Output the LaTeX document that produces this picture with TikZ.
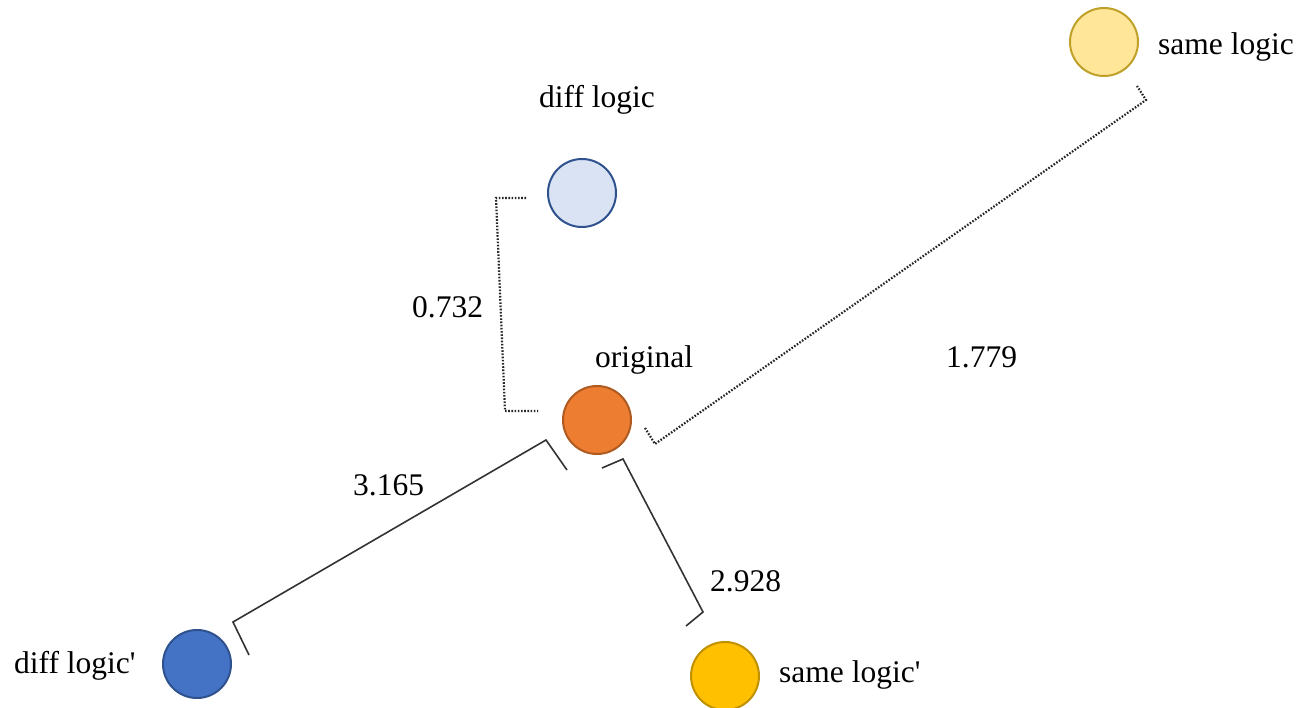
\documentclass[tikz,border=0pt]{standalone}
\usepackage{fontspec}
\setmainfont{Liberation Serif}
\begin{document}
\begin{tikzpicture}[x=1pt,y=-1pt,
  dot/.style={circle,minimum size=68pt,inner sep=0pt,line width=2pt},
  lbl/.style={anchor=base west,inner sep=0pt,font=\fontsize{31.5}{36}\selectfont},
  solidbr/.style={draw=black!80,line width=1.6pt},
  dotbr/.style={draw=black!85,line width=2.2pt,dash pattern=on 1.6pt off 1.6pt}]
\useasboundingbox[fill=white] (0,0) rectangle (1304,708);
% circles
\node[dot,fill={rgb,255:red,218;green,227;blue,243},draw={rgb,255:red,47;green,82;blue,143}] (dl) at (582,193) {};
\node[dot,fill={rgb,255:red,237;green,125;blue,49},draw={rgb,255:red,174;green,90;blue,33}] (or) at (597,420) {};
\node[dot,fill={rgb,255:red,255;green,230;blue,153},draw={rgb,255:red,191;green,160;blue,40}] (sl) at (1104,42) {};
\node[dot,fill={rgb,255:red,255;green,192;blue,0},draw={rgb,255:red,191;green,144;blue,0}] (slp) at (725,676) {};
\node[dot,fill={rgb,255:red,68;green,114;blue,196},draw={rgb,255:red,47;green,82;blue,143}] (dlp) at (197,664) {};
% labels
\node[lbl] (tdl) at (539,108) {diff logic};
\node[lbl] (tsl) at (1158,55) {same logic};
\node[lbl] (tor) at (595,368) {original};
\node[lbl] (tdlp) at (14,673) {diff logic\textquotesingle};
\node[lbl] (tslp) at (779,682) {same logic\textquotesingle};
\node[lbl] (v1) at (412,318) {0.732};
\node[lbl] (v2) at (946,368) {1.779};
\node[lbl] (v3) at (353,495) {3.165};
\node[lbl] (v4) at (710,591) {2.928};
% bracket corners
\coordinate (a1) at (526,198);
\coordinate (a2) at (496,198);
\coordinate (a3) at (505,411);
\coordinate (a4) at (538,411);
\coordinate (b1) at (645,428);
\coordinate (b2) at (655,444);
\coordinate (b3) at (1146,100);
\coordinate (b4) at (1137,86);
\coordinate (c1) at (249,655);
\coordinate (c2) at (233,622);
\coordinate (c3) at (546,440);
\coordinate (c4) at (567,470);
\coordinate (d1) at (602,468);
\coordinate (d2) at (623,459);
\coordinate (d3) at (703,612);
\coordinate (d4) at (686,626);
% connectors
\draw[dotbr] (a1) -- (a2) -- (a3) -- (a4);
\draw[dotbr] (b1) -- (b2) -- (b3) -- (b4);
\draw[solidbr] (c1) -- (c2) -- (c3) -- (c4);
\draw[solidbr] (d1) -- (d2) -- (d3) -- (d4);
\end{tikzpicture}
\end{document}
